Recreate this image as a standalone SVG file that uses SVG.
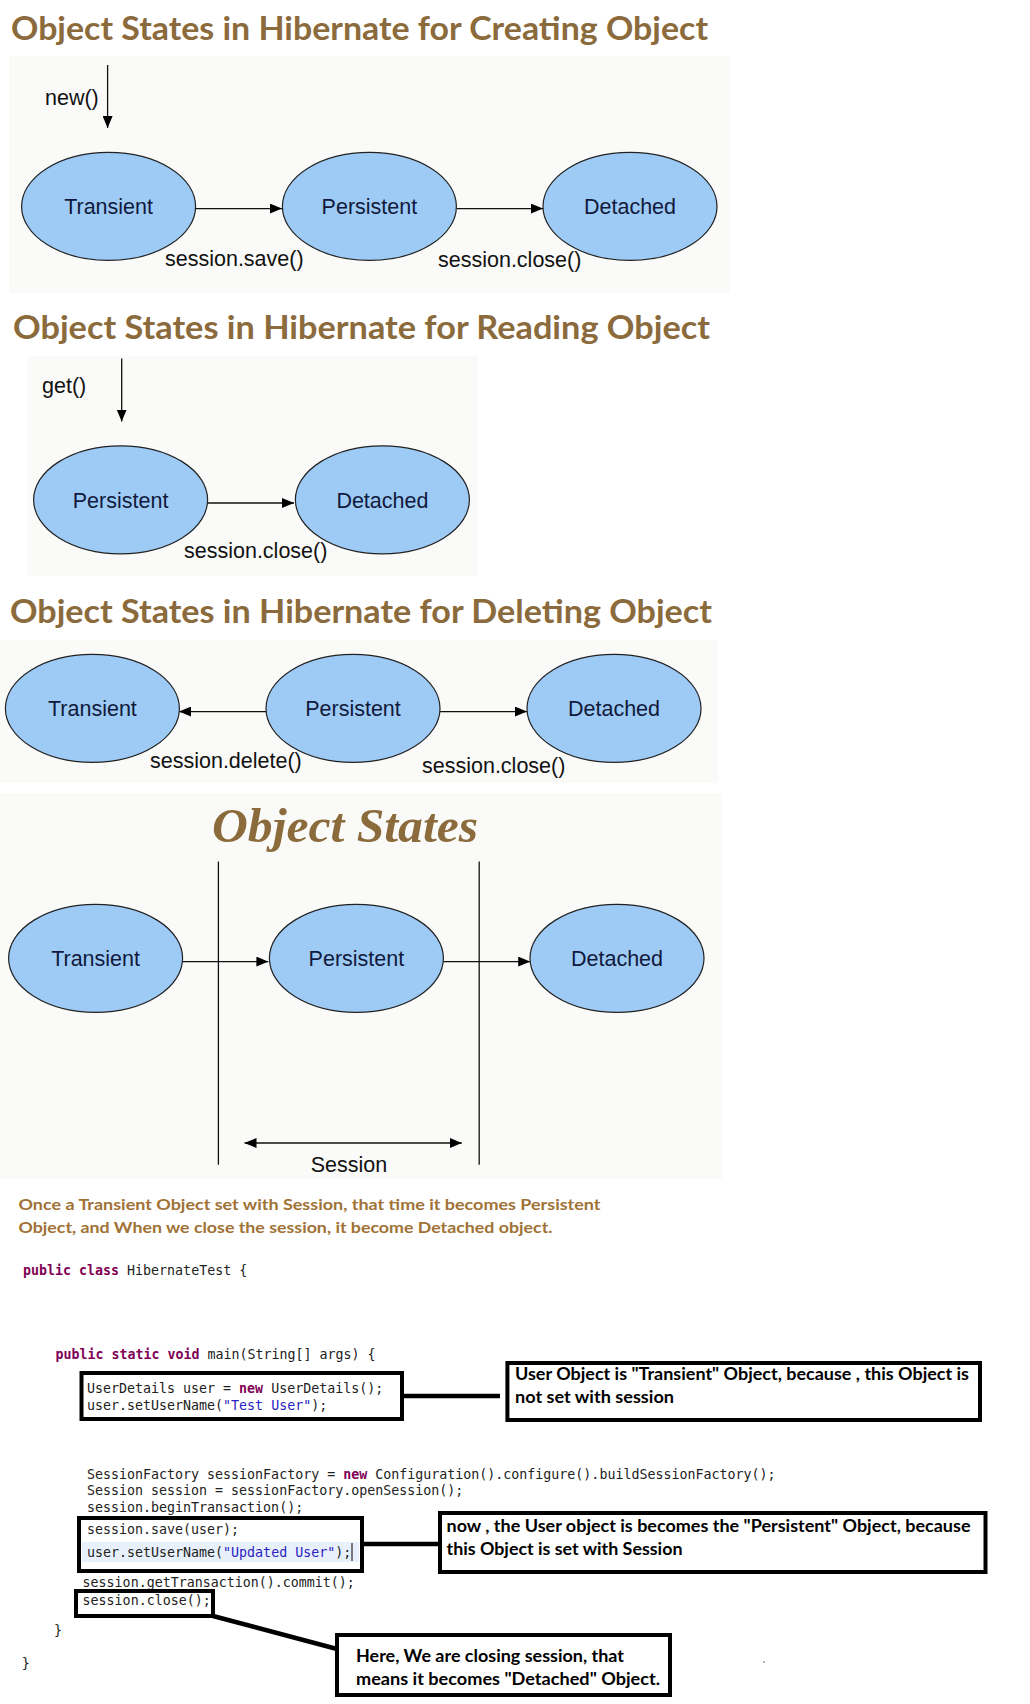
<svg xmlns="http://www.w3.org/2000/svg" width="1030" height="1704" viewBox="0 0 1030 1704">
<style>
.title{font-family:Lato,"Open Sans",sans-serif;font-weight:bold;font-size:32px;fill:#8b6a3c}
.st{fill:#9ecbf6;stroke:#222;stroke-width:1.2}
.lbl{font-family:"Liberation Sans",Arial,sans-serif;font-size:21.5px;fill:#111a3c;text-anchor:middle}
.ed{font-family:"Liberation Sans",Arial,sans-serif;font-size:21.5px;fill:#111}
.conn{stroke:#111;stroke-width:1.3;fill:none}
.para{font-family:Lato,"Open Sans",sans-serif;font-weight:bold;font-size:16px;fill:#a07236}
.code{font-family:"DejaVu Sans Mono",monospace;font-size:13.3px;fill:#222}
.kw{font-weight:bold;fill:#7f0055}
.str{fill:#2a22c0}
.box{fill:none;stroke:#000;stroke-width:4}
.note{font-family:Lato,"Open Sans",sans-serif;font-weight:bold;font-size:16.5px;fill:#000}
.bar{stroke:#000;stroke-width:4.5;fill:none}
.bg{fill:#fafaf8}
</style>
<defs>
<marker id="ah" viewBox="0 0 12 10" refX="12" refY="5" markerWidth="12" markerHeight="10" markerUnits="userSpaceOnUse" orient="auto-start-reverse">
<path d="M0,0 L12,5 L0,10 z" fill="#000"/>
</marker>
</defs>
<rect width="1030" height="1704" fill="#fff"/>
<!-- backgrounds -->
<rect class="bg" x="9" y="56" width="721" height="237"/>
<rect class="bg" x="27" y="356" width="451" height="220"/>
<rect class="bg" x="0" y="640" width="718" height="143"/>
<rect class="bg" x="0" y="793" width="722" height="386"/>

<!-- titles -->
<text class="title" x="11" y="40" textLength="697" lengthAdjust="spacingAndGlyphs">Object States in Hibernate for Creating Object</text>
<text class="title" x="13" y="339" textLength="697" lengthAdjust="spacingAndGlyphs">Object States in Hibernate for Reading Object</text>
<text class="title" x="10" y="623" textLength="702" lengthAdjust="spacingAndGlyphs">Object States in Hibernate for Deleting Object</text>
<text x="212" y="842" font-family="'Liberation Serif',serif" font-weight="bold" font-style="italic" font-size="48" fill="#8b6a3c" textLength="266" lengthAdjust="spacingAndGlyphs">Object States</text>

<!-- connectors -->
<g id="connectors">
<line class="conn" x1="107.6" y1="65" x2="107.6" y2="128" marker-end="url(#ah)"/>
<line class="conn" x1="196" y1="208.6" x2="282" y2="208.6" marker-end="url(#ah)"/>
<line class="conn" x1="457" y1="208.6" x2="543" y2="208.6" marker-end="url(#ah)"/>
<line class="conn" x1="121.7" y1="358.5" x2="121.7" y2="421.6" marker-end="url(#ah)"/>
<line class="conn" x1="208" y1="503" x2="294" y2="503" marker-end="url(#ah)"/>
<line class="conn" x1="266" y1="711.6" x2="179" y2="711.6" marker-end="url(#ah)"/>
<line class="conn" x1="440" y1="711.6" x2="527" y2="711.6" marker-end="url(#ah)"/>
<line class="conn" x1="182.5" y1="961.6" x2="268.4" y2="961.6" marker-end="url(#ah)"/>
<line class="conn" x1="443.3" y1="961.6" x2="530.2" y2="961.6" marker-end="url(#ah)"/>
<line class="conn" x1="218.4" y1="861.6" x2="218.4" y2="1164.7"/>
<line class="conn" x1="479.2" y1="861.6" x2="479.2" y2="1164.7"/>
<line class="conn" x1="244.5" y1="1143" x2="461.8" y2="1143" marker-start="url(#ah)" marker-end="url(#ah)"/>
<line class="bar" x1="404" y1="1396" x2="500" y2="1396"/>
<line class="bar" x1="364" y1="1544" x2="440" y2="1544"/>
<line class="bar" x1="213" y1="1616" x2="337" y2="1649"/>
</g>

<!-- edge labels -->
<text class="ed" x="45" y="105">new()</text>
<text class="ed" x="165" y="266">session.save()</text>
<text class="ed" x="438" y="267">session.close()</text>
<text class="ed" x="42" y="393">get()</text>
<text class="ed" x="184" y="558">session.close()</text>
<text class="ed" x="150" y="768">session.delete()</text>
<text class="ed" x="422" y="773">session.close()</text>
<text class="ed" x="349" y="1172" text-anchor="middle">Session</text>

<!-- section 1 nodes -->
<g id="c-transient"><ellipse class="st" cx="108.6" cy="206.4" rx="87" ry="54"/><text class="lbl" x="108.6" y="214">Transient</text></g>
<g id="c-persistent"><ellipse class="st" cx="369.4" cy="206.4" rx="87" ry="54"/><text class="lbl" x="369.4" y="214">Persistent</text></g>
<g id="c-detached"><ellipse class="st" cx="630" cy="206.4" rx="87" ry="54"/><text class="lbl" x="630" y="214">Detached</text></g>
<!-- section 2 nodes -->
<g id="r-persistent"><ellipse class="st" cx="120.6" cy="499.8" rx="87" ry="54"/><text class="lbl" x="120.6" y="507.5">Persistent</text></g>
<g id="r-detached"><ellipse class="st" cx="382.4" cy="499.8" rx="87" ry="54"/><text class="lbl" x="382.4" y="507.5">Detached</text></g>
<!-- section 3 nodes -->
<g id="d-transient"><ellipse class="st" cx="92.4" cy="708.4" rx="87" ry="54"/><text class="lbl" x="92.4" y="716">Transient</text></g>
<g id="d-persistent"><ellipse class="st" cx="353" cy="708.4" rx="87" ry="54"/><text class="lbl" x="353" y="716">Persistent</text></g>
<g id="d-detached"><ellipse class="st" cx="614" cy="708.4" rx="87" ry="54"/><text class="lbl" x="614" y="716">Detached</text></g>
<!-- section 4 nodes -->
<g id="s-transient"><ellipse class="st" cx="95.6" cy="958.3" rx="87" ry="54"/><text class="lbl" x="95.6" y="966">Transient</text></g>
<g id="s-persistent"><ellipse class="st" cx="356.4" cy="958.3" rx="87" ry="54"/><text class="lbl" x="356.4" y="966">Persistent</text></g>
<g id="s-detached"><ellipse class="st" cx="617" cy="958.3" rx="87" ry="54"/><text class="lbl" x="617" y="966">Detached</text></g>

<!-- paragraph -->
<text class="para" x="18.5" y="1210" textLength="582" lengthAdjust="spacingAndGlyphs">Once a Transient Object set with Session, that time it becomes Persistent</text>
<text class="para" x="18.5" y="1233" textLength="534" lengthAdjust="spacingAndGlyphs">Object, and When we close the session, it become Detached object.</text>

<!-- code -->
<g id="code">
<text class="code" x="23" y="1274.5"><tspan class="kw">public class</tspan> HibernateTest {</text>
<text class="code" x="55.4" y="1359"><tspan class="kw">public static void</tspan> main(String[] args) {</text>
<text class="code" x="87" y="1393">UserDetails user = <tspan class="kw">new</tspan> UserDetails();</text>
<text class="code" x="87" y="1410">user.setUserName(<tspan class="str">"Test User"</tspan>);</text>
<text class="code" x="87" y="1478.7">SessionFactory sessionFactory = <tspan class="kw">new</tspan> Configuration().configure().buildSessionFactory();</text>
<text class="code" x="87" y="1495">Session session = sessionFactory.openSession();</text>
<text class="code" x="87" y="1512">session.beginTransaction();</text>
<rect x="82" y="1542" width="277" height="20" fill="#e8f0fc"/>
<text class="code" x="87" y="1534">session.save(user);</text>
<text class="code" x="87" y="1557">user.setUserName(<tspan class="str">"Updated User"</tspan>);</text>
<line x1="352" y1="1543" x2="352" y2="1561" stroke="#000" stroke-width="1"/>
<text class="code" x="82.6" y="1587">session.getTransaction().commit();</text>
<text class="code" x="82.6" y="1605">session.close();</text>
<text class="code" x="54" y="1635">}</text>
<text class="code" x="21.7" y="1668">}</text>
</g>

<!-- code highlight boxes and notes -->
<g id="box-transient-code"><rect class="box" x="81.5" y="1373" width="320.5" height="46"/></g>
<g id="note-transient"><rect class="box" x="507.4" y="1363" width="472.6" height="57"/>
<text class="note" x="515" y="1380" textLength="454" lengthAdjust="spacingAndGlyphs">User Object is "Transient" Object, because , this Object is</text>
<text class="note" x="515" y="1403" textLength="159" lengthAdjust="spacingAndGlyphs">not set with session</text></g>
<g id="box-persistent-code"><rect class="box" x="79" y="1518" width="283" height="53"/></g>
<g id="note-persistent"><rect class="box" x="440" y="1513" width="545.5" height="59"/>
<text class="note" x="446.5" y="1532" textLength="524" lengthAdjust="spacingAndGlyphs">now , the User object is becomes the "Persistent" Object, because</text>
<text class="note" x="446.5" y="1555" textLength="236" lengthAdjust="spacingAndGlyphs">this Object is set with Session</text></g>
<g id="box-close-code"><rect class="box" x="76" y="1591" width="137" height="25"/></g>
<g id="note-detached"><rect class="box" x="337" y="1635" width="333" height="60"/>
<text class="note" x="356" y="1662" textLength="268" lengthAdjust="spacingAndGlyphs">Here, We are closing session, that</text>
<text class="note" x="356" y="1685" textLength="304" lengthAdjust="spacingAndGlyphs">means it becomes  "Detached" Object.</text></g>
<circle cx="764" cy="1662" r="0.8" fill="#555"/>
</svg>
